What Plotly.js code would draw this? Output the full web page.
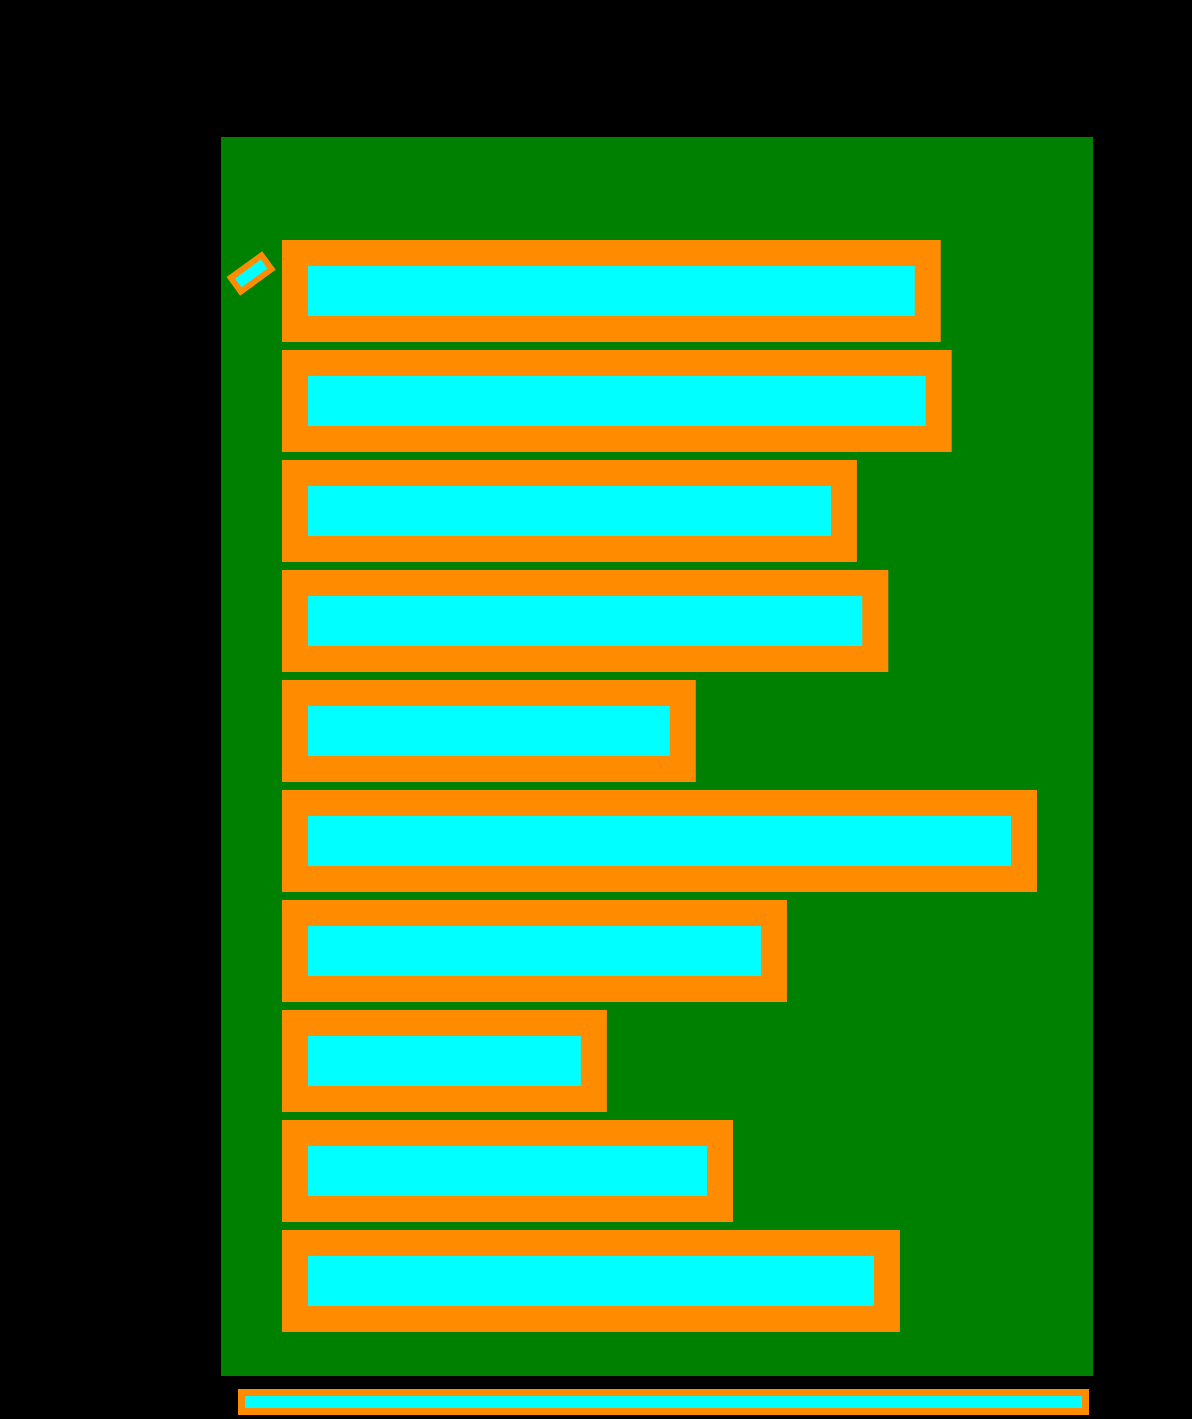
<!DOCTYPE html>
<html>
<head>
<meta charset="utf-8">
<script src="https://cdn.plot.ly/plotly-3.0.1.min.js"></script>
<style>html,body{margin:0;padding:0;background:#000;}</style>
</head>
<body>
<div id="chart" style="width:1192px;height:1419px;"></div>
<script>
const categories = ["Item 1","Item 2","Item 3","Item 4","Item 5","Item 6","Item 7","Item 8","Item 9","Item 10"];
const values = [86.8, 88.3, 75.3, 79.6, 53.2, 100, 65.7, 41.0, 58.3, 81.2];

const trace = {
  type: 'bar',
  orientation: 'h',
  y: categories,
  x: values,
  marker: { color: '#00FFFF', line: { color: '#FF8C00', width: 26 } },
  showlegend: false,
  hoverinfo: 'x+y'
};

const layout = {
  width: 1192,
  height: 1419,
  paper_bgcolor: '#000000',
  plot_bgcolor: '#008000',
  margin: { l: 221, r: 99, t: 137, b: 43, pad: 0 },
  font: { family: 'DejaVu Sans', color: '#000000', size: 12 },
  bargap: 0.31,
  showlegend: false,
  xaxis: {
    range: [-10.15, 109.47],
    showgrid: false,
    zeroline: false,
    showline: false,
    tickfont: { color: '#000000' }
  },
  yaxis: {
    type: 'category',
    categoryorder: 'array',
    categoryarray: categories,
    range: [9.864, -1.4],
    showgrid: false,
    zeroline: false,
    showline: false,
    tickfont: { color: '#000000' }
  },
  annotations: [
    {
      xref: 'paper', yref: 'paper',
      x: 0.0344, y: 0.890,
      xanchor: 'center', yanchor: 'middle',
      text: '\u00a0',
      showarrow: false,
      textangle: -36,
      width: 32, height: 11,
      borderpad: 0, borderwidth: 6,
      bgcolor: '#00FFFF', bordercolor: '#FF8C00',
      font: { color: '#00FFFF', size: 8 }
    },
    {
      xref: 'paper', yref: 'paper',
      x: 0.5075, y: -0.021,
      xanchor: 'center', yanchor: 'middle',
      text: '\u00a0',
      showarrow: false,
      width: 837, height: 12,
      borderpad: 0, borderwidth: 7,
      bgcolor: '#00FFFF', bordercolor: '#FF8C00',
      font: { color: '#00FFFF', size: 8 }
    }
  ]
};

Plotly.newPlot('chart', [trace], layout, { displayModeBar: false, responsive: false });
</script>
</body>
</html>
